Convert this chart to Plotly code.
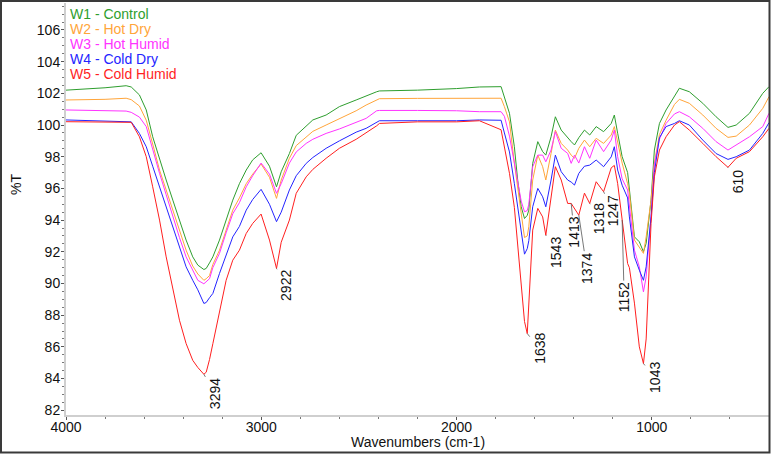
import plotly.graph_objects as go

# ---------------- data ----------------
wavenumber = [4000, 3800, 3692, 3666, 3624, 3589, 3556, 3521, 3487, 3453, 3419, 3385, 3351, 3325,
              3294, 3282, 3265, 3248, 3214, 3180, 3146, 3112, 3077, 3044, 3001, 2958, 2922, 2898,
              2856, 2821, 2770, 2736, 2668, 2600, 2514, 2463, 2409, 2395, 2200, 2000, 1883, 1772,
              1755, 1729, 1704, 1687, 1669, 1652, 1638, 1630, 1610, 1584, 1559, 1543, 1516, 1494,
              1464, 1431, 1413, 1396, 1374, 1345, 1318, 1285, 1247, 1208, 1192, 1175, 1152, 1124,
              1115, 1089, 1064, 1043, 1029, 1004, 987, 961, 927, 884, 859, 808, 739, 671, 610,
              568, 500, 432, 400]

w1_control = [102.2, 102.35, 102.48, 102.4, 101.9, 100.95, 99.26, 97.79, 96.53, 95.26, 94.0, 92.74,
              91.68, 91.16, 90.88, 90.95, 91.3, 91.68, 92.74, 94.0, 95.26, 96.3, 97.16, 97.8, 98.25,
              97.4, 96.1, 97.05, 98.2, 99.35, 99.95, 100.32, 100.63, 101.16, 101.58, 101.85, 102.1,
              102.15, 102.2, 102.3, 102.4, 102.42, 101.79, 100.74, 98.63, 96.53, 94.84, 94.1, 94.3,
              94.63, 97.58, 98.95, 98.32, 98.1, 99.26, 100.52, 99.68, 99.16, 98.95, 98.74, 99.2,
              99.68, 99.37, 99.9, 99.58, 100.1, 100.63, 99.48, 98.0, 97.0, 95.9, 92.94, 92.63, 92.0,
              92.53, 95.26, 98.42, 100.1, 100.95, 101.79, 102.32, 102.1, 101.37, 100.52, 99.85,
              100.0, 100.74, 102.0, 102.42]

w2_hot_dry = [101.58, 101.62, 101.69, 101.6, 101.2, 100.3, 98.8, 97.16, 95.9, 94.63, 93.35, 92.1,
              91.1, 90.6, 90.2, 90.3, 90.5, 91.2, 92.1, 93.4, 94.63, 95.4, 96.3, 96.9, 97.54, 96.7,
              95.37, 96.53, 97.9, 98.7, 99.26, 99.6, 100.0, 100.4, 100.9, 101.26, 101.6, 101.66,
              101.68, 101.68, 101.69, 101.69, 101.16, 100.2, 97.6, 96.0, 94.4, 92.9, 93.0, 93.58,
              96.53, 98.1, 97.37, 96.53, 98.21, 99.68, 98.84, 98.42, 98.1, 97.9, 98.53, 99.05,
              98.63, 99.16, 98.84, 99.37, 99.9, 98.95, 97.6, 96.3, 95.69, 92.74, 92.3, 91.9, 92.94,
              95.26, 97.6, 99.4, 100.3, 101.3, 101.62, 101.37, 100.63, 99.79, 99.22, 99.3, 100.0,
              101.05, 101.79]

w3_hot_humid = [100.95, 100.9, 100.88, 100.8, 100.5, 99.9, 98.4, 96.95, 95.6, 94.2, 92.9, 91.68,
                90.8, 90.2, 89.98, 90.1, 90.3, 91.0, 91.9, 93.2, 94.4, 95.1, 96.1, 96.8, 97.6, 96.9,
                95.69, 96.3, 97.6, 98.3, 98.84, 99.1, 99.47, 99.75, 100.15, 100.42, 100.9, 100.92,
                100.92, 100.9, 100.84, 100.84, 100.55, 99.3, 97.6, 96.3, 95.2, 94.52, 94.6, 95.0,
                97.37, 98.1, 98.1, 97.68, 98.42, 99.58, 98.53, 98.21, 97.58, 98.1, 97.6, 98.63,
                97.9, 99.05, 98.32, 99.05, 99.68, 98.0, 96.6, 95.9, 94.8, 92.1, 91.05, 89.47, 90.42,
                94.2, 97.5, 99.1, 100.1, 100.7, 100.84, 100.52, 99.79, 98.95, 98.42, 98.74, 99.26,
                99.9, 100.74]

w4_cold_dry = [100.32, 100.25, 100.25, 100.2, 99.47, 98.63, 97.4, 96.1, 94.85, 93.58, 92.3, 91.05,
               90.2, 89.6, 88.74, 88.8, 89.1, 89.37, 90.63, 91.8, 92.94, 93.6, 94.63, 95.3, 95.94,
               95.0, 93.9, 94.5, 95.9, 96.8, 97.58, 97.95, 98.53, 99.0, 99.55, 99.79, 100.2, 100.27,
               100.27, 100.27, 100.32, 100.3, 99.5, 98.3, 96.3, 94.9, 93.2, 91.85, 92.2, 92.7,
               94.84, 96.0, 95.47, 94.84, 96.53, 98.1, 97.05, 96.53, 96.4, 96.21, 96.95, 97.4,
               97.47, 97.79, 97.37, 97.99, 98.63, 97.16, 96.2, 95.4, 94.2, 91.68, 90.84, 90.2,
               91.05, 94.2, 97.0, 99.2, 99.9, 100.1, 100.27, 100.0, 99.05, 98.2, 97.83, 98.0, 98.42,
               99.47, 100.15]

w5_cold_humid = [100.21, 100.2, 100.2, 100.17, 99.26, 98.0, 96.1, 94.0, 91.68, 89.58, 87.68, 86.21,
                 85.15, 84.7, 84.27, 84.4, 85.2, 86.2, 88.3, 90.2, 91.47, 92.1, 93.16, 93.79, 94.38,
                 92.74, 90.95, 92.6, 94.0, 95.69, 96.73, 97.2, 97.9, 98.53, 99.1, 99.5, 99.95,
                 100.1, 100.2, 100.2, 100.27, 99.7, 98.63, 96.95, 94.8, 92.4, 89.8, 87.6, 86.84,
                 88.9, 93.37, 94.74, 94.2, 93.05, 95.47, 97.37, 96.53, 95.05, 95.05, 94.7, 94.31,
                 95.7, 95.05, 96.42, 95.79, 97.3, 97.45, 96.3, 94.0, 91.26, 91.0, 88.76, 86.0, 84.95,
                 86.5, 93.79, 96.73, 98.42, 99.26, 100.0, 100.21, 99.68, 98.84, 98.0, 97.33, 97.9,
                 98.32, 99.26, 99.79]

series_names = ["W1 - Control", "W2 - Hot Dry", "W3 - Hot Humid", "W4 - Cold Dry", "W5 - Cold Humid"]
series_values = [w1_control, w2_hot_dry, w3_hot_humid, w4_cold_dry, w5_cold_humid]
series_colors = ["#2e9e2e", "#ffa53a", "#ff33ff", "#2424ff", "#ff1f1f"]

peak_labels = ["3294", "2922", "1638", "1543", "1413", "1374", "1318", "1247", "1152", "1043", "610"]
peak_wn = [3294, 2922, 1638, 1543, 1413, 1374, 1318, 1247, 1152, 1043, 610]
peak_T = [84.27, 90.95, 86.84, 93.05, 95.05, 94.31, 95.05, 95.79, 94.0, 84.95, 97.33]

x_ticks = [4000, 3000, 2000, 1000]
y_ticks = list(range(82, 107, 2))

# ---------------- layout geometry ----------------
W, H = 771, 454
ML, MR, MT, MB = 66, 2, 3, 39
PW, PH = W - ML - MR, H - MT - MB
FONT = "Liberation Sans, Arial, sans-serif"

def px_x(p):
    return (p - ML) / PW

def px_y(p):
    return (H - MB - p) / PH

fig = go.Figure()
for name, vals, col in zip(series_names, series_values, series_colors):
    fig.add_trace(go.Scatter(x=wavenumber, y=vals, mode="lines", name=name,
                             line=dict(color=col, width=1), showlegend=False))

annotations = []
# legend text (coloured names)
for i, (name, col) in enumerate(zip(series_names, series_colors)):
    annotations.append(dict(xref="paper", yref="paper", x=px_x(68), y=px_y(14 + 15.1 * i),
                            xanchor="left", yanchor="middle", text=name, showarrow=False,
                            font=dict(family=FONT, size=14, color=col)))

# peak labels (rotated) with leader lines
label_offsets = [(11, 19), (10, 17), (12, 15), (10, 17), (3, 29), (8, 53), (10, 15),
                 (9, 19), (2, 77), (11, 14), (10, 14)]
for lab, wn, t, (ax, ay) in zip(peak_labels, peak_wn, peak_T, label_offsets):
    annotations.append(dict(x=wn, y=t, xref="x", yref="y", text=lab, textangle=-90,
                            showarrow=True, arrowhead=0, arrowwidth=0.8, arrowcolor="#555555",
                            ax=ax, ay=ay, standoff=0,
                            font=dict(family=FONT, size=14, color="#111111")))

# axis titles
annotations.append(dict(xref="paper", yref="paper", x=0.5, y=px_y(442), xanchor="center",
                        yanchor="middle", text="Wavenumbers (cm-1)", showarrow=False,
                        font=dict(family=FONT, size=14, color="#111111")))
annotations.append(dict(xref="paper", yref="paper", x=px_x(16), y=px_y(185), xanchor="center",
                        yanchor="middle", text="%T", textangle=-90, showarrow=False,
                        font=dict(family=FONT, size=14, color="#111111")))

fig.update_layout(
    width=W, height=H,
    margin=dict(l=ML, r=MR, t=MT, b=MB, pad=0),
    paper_bgcolor="white", plot_bgcolor="white",
    font=dict(family=FONT, size=14, color="#111111"),
    annotations=annotations,
    shapes=[dict(type="rect", xref="paper", yref="paper",
                 x0=px_x(1), x1=px_x(769.5), y0=px_y(452.5), y1=px_y(1),
                 line=dict(color="#3a3a3a", width=2), fillcolor="rgba(0,0,0,0)")],
    xaxis=dict(range=[4000, 400], tickvals=x_ticks, ticktext=[str(v) for v in x_ticks],
               showgrid=False, zeroline=False, showline=True, linecolor="#cfcfcf", linewidth=2,
               ticks="outside", ticklen=3, tickcolor="#555555", tickwidth=1,
               ticklabelstandoff=-5,
               minor=dict(dtick=200, ticks="outside", ticklen=2, tickcolor="#777777"),
               tickfont=dict(family=FONT, size=14, color="#111111")),
    yaxis=dict(range=[81.7, 107.7], tickvals=y_ticks, ticktext=[str(v) for v in y_ticks],
               showgrid=False, zeroline=False, showline=True, linecolor="#cfcfcf", linewidth=2,
               ticks="outside", ticklen=3, tickcolor="#555555", tickwidth=1,
               ticklabelstandoff=-2,
               minor=dict(dtick=0.5, tick0=82, ticks="outside", ticklen=2, tickcolor="#777777"),
               tickfont=dict(family=FONT, size=14, color="#111111")),
)

fig.write_html("out.html", config={"displayModeBar": False},
               post_script="document.body.style.margin='0';document.body.style.overflow='hidden';")
